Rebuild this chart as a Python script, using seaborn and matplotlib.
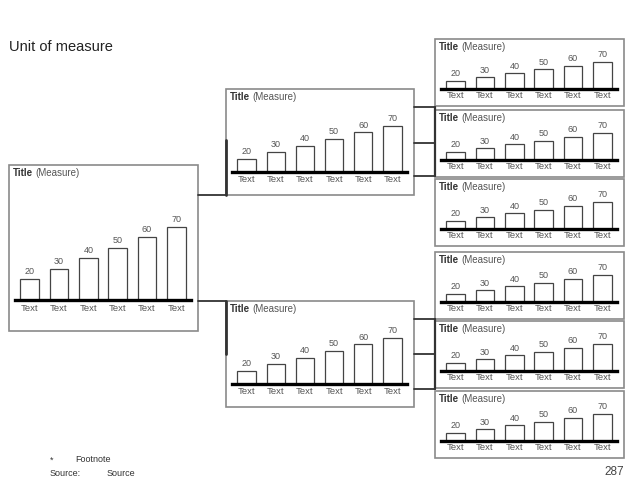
import matplotlib
matplotlib.use("Agg")
import matplotlib.pyplot as plt
import seaborn as sns
import pandas as pd
from matplotlib.patches import Rectangle
from matplotlib.lines import Line2D

# data (same for every panel in the picture)
categories = ["Text", "Text", "Text", "Text", "Text", "Text"]
values = [20, 30, 40, 50, 60, 70]
panel_title = "Title"
panel_measure = "(Measure)"
unit_label = "Unit of measure"
footnote_mark = "*"
footnote_text = "Footnote"
source_label = "Source:"
source_text = "Source"
page_number = "287"

sns.set_theme(style="white")
plt.rcParams["font.family"] = ["Liberation Sans", "DejaVu Sans"]

W, H = 640, 480
fig = plt.figure(figsize=(6.4, 4.8), dpi=100)
fig.patch.set_facecolor("white")


def fx(x):
    return x / W


def fy(y):
    return 1 - y / H


def line(x0, y0, x1, y1, lw=1.3, c="#333333"):
    fig.add_artist(Line2D([fx(x0), fx(x1)], [fy(y0), fy(y1)],
                          transform=fig.transFigure, lw=lw, color=c))


def panel(box, ax_x, baseline, scale, pad):
    x0, y0, x1, y1 = box
    fig.add_artist(Rectangle((fx(x0), fy(y1)), fx(x1) - fx(x0), fy(y0) - fy(y1),
                             transform=fig.transFigure, fill=False,
                             edgecolor="#8a8a8a", lw=1.2))
    t1 = fig.text(fx(x0 + 4), fy(y0 + 8), panel_title, fontsize=7,
                  fontweight="bold", color="#333333", va="center", ha="left")
    ax = fig.add_axes([fx(ax_x[0]), fy(baseline), fx(ax_x[1]) - fx(ax_x[0]),
                       80 * scale / H])
    df = pd.DataFrame({"pos": range(len(values)), "val": values})
    sns.barplot(data=df, x="pos", y="val", ax=ax, color="white",
                edgecolor="#444444", linewidth=0.9, width=0.63, saturation=1)
    ax.set_xlim(-0.5, len(values) - 0.5)
    ax.set_ylim(0, 80)
    ax.bar_label(ax.containers[0], padding=2, fontsize=6.5, color="#555555")
    ax.set_xticks(range(len(categories)))
    ax.set_xticklabels(categories, fontsize=6.8, color="#555555")
    ax.tick_params(axis="x", length=0, pad=pad)
    ax.set_yticks([])
    ax.set_xlabel("")
    ax.set_ylabel("")
    for s in ["top", "left", "right"]:
        ax.spines[s].set_visible(False)
    ax.spines["bottom"].set_linewidth(2.4)
    ax.spines["bottom"].set_color("black")
    ax.patch.set_alpha(0)
    ax.annotate(panel_measure, xy=(1, 0), xycoords=t1, xytext=(1.8, 0),
                textcoords="offset points", fontsize=7,
                color="#555555", va="bottom", ha="left", annotation_clip=False)


# big left panel
panel((9, 165, 198, 331), (15, 191), 300, 1.05, 3)
# middle panels
panel((226, 89, 414, 195), (232, 407), 172, 0.66, 2.5)
panel((226, 301, 414, 407), (232, 407), 384, 0.66, 2.5)
# right panels
for top in [39, 110, 179, 252, 321, 391]:
    panel((435, top, 624, top + 67), (441, 617), top + 50, 0.39, 1.5)

# connectors
line(198, 195, 226, 195)
line(198, 301, 226, 301)
line(226, 140, 226, 195, lw=2)
line(226, 301, 226, 354, lw=2)
for y in [107, 143, 176]:
    line(414, y, 435, y)
for y in [319, 354, 389]:
    line(414, y, 435, y)
line(435, 107, 435, 176, lw=1.6)
line(435, 319, 435, 389, lw=1.6)

fig.text(fx(9), fy(47), unit_label, fontsize=10.5, color="#222222", va="center")
fig.text(fx(50), fy(460), footnote_mark, fontsize=6.5, color="#333333", va="center")
fig.text(fx(75), fy(460), footnote_text, fontsize=6.5, color="#333333", va="center")
fig.text(fx(50), fy(473), source_label, fontsize=6.5, color="#333333", va="center")
fig.text(fx(107), fy(473), source_text, fontsize=6.5, color="#333333", va="center")
fig.text(fx(624), fy(472), page_number, fontsize=8.5, color="#444444",
         va="center", ha="right")

fig.savefig("out.png", dpi=100)
